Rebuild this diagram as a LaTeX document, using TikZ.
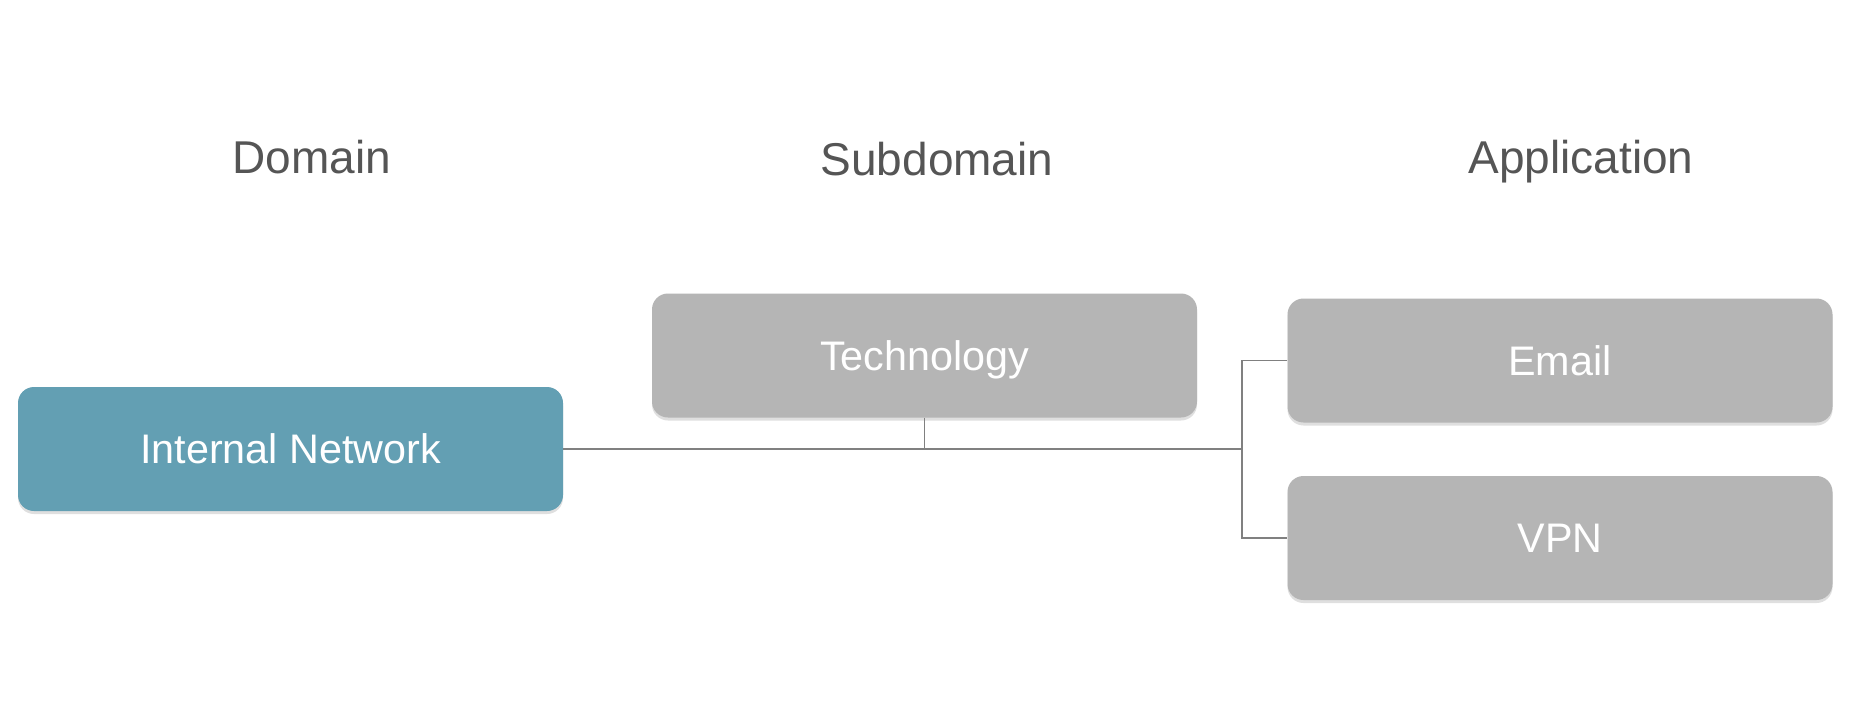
\documentclass[tikz,border=0pt]{standalone}
\usepackage{fontspec}
\setmainfont{Liberation Sans}
\usetikzlibrary{shadows}
\definecolor{teal}{HTML}{639FB3}
\definecolor{boxgray}{HTML}{B5B5B5}
\definecolor{linegray}{HTML}{808080}
\definecolor{headgray}{HTML}{555555}
\tikzset{
  box/.style={rounded corners=16pt, minimum width=545pt, minimum height=124pt, inner sep=0pt,
    text=white, font=\fontsize{41.3}{48}\selectfont, text height=29.5pt, text depth=0pt,
    drop shadow={opacity=0.25, shadow xshift=0pt, shadow yshift=-3pt}},
  graybox/.style={box, fill=boxgray},
  bluebox/.style={box, fill=teal},
  header/.style={text=headgray, font=\fontsize{46}{54}\selectfont, inner sep=0pt,
    text height=33pt, text depth=0pt},
  conn/.style={draw=linegray, line width=1.6pt}
}
\begin{document}
\begin{tikzpicture}[x=1pt, y=-1pt]
\useasboundingbox (0,0) rectangle (1862,714);
\fill[white] (0,0) rectangle (1862,714);
\node[header] (hdom) at (312,157) {Domain};
\node[header] (hsub) at (937,159) {Subdomain};
\node[header] (happ) at (1581,157) {Application};
\node[bluebox] (inet) at (290.5,449) {Internal Network};
\node[graybox] (tech) at (924.5,355.5) {Technology};
\node[graybox] (email) at (1560,360.5) {Email};
\node[graybox] (vpn) at (1560,538) {VPN};
\coordinate (jb) at (1242,449);
\draw[conn] (inet.east) -- (jb);
\draw[conn] (tech.south) -- (tech.south |- jb);
\draw[conn] (email.west) -| (jb) |- (vpn.west);
\end{tikzpicture}
\end{document}
